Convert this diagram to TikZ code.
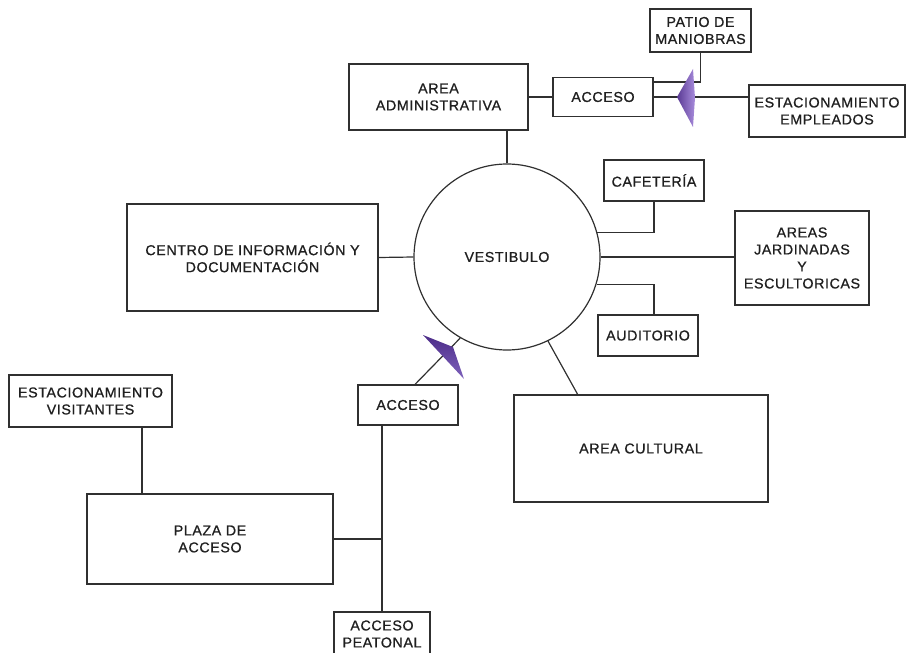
\documentclass[tikz,border=0pt]{standalone}
\usepackage{fontspec}
\setmainfont{Liberation Sans}[LetterSpace=4,FakeBold=0.8]
\newcommand\dgfont{\fontsize{14.3bp}{17bp}\selectfont}
\definecolor{edge}{HTML}{303030}
\definecolor{purpdark}{HTML}{5A3A94}
\definecolor{purplight}{HTML}{A88CDC}
\definecolor{purpdeep}{HTML}{4C2C88}
\definecolor{purpmid}{HTML}{7E62BC}
\begin{document}
\begin{tikzpicture}[x=1bp,y=-1bp,
  box/.style={draw=edge, line width=1.2bp, fill=white, align=center, font=\dgfont, inner sep=0pt, text=black!88},
  conn/.style={draw=edge, line width=1.2bp}]
\useasboundingbox (0,0) rectangle (909,653);
% nodes
\node[box, minimum width=179bp, minimum height=66bp] (admin) at (438.5,97) {AREA\\ADMINISTRATIVA};
\node[box, minimum width=100bp, minimum height=39bp] (acc1) at (603,97) {ACCESO};
\node[box, minimum width=101bp, minimum height=43bp] (patio) at (700.5,30.5) {PATIO DE\\MANIOBRAS};
\node[box, minimum width=156bp, minimum height=52bp] (estemp) at (827,111) {ESTACIONAMIENTO\\EMPLEADOS};
\node[box, circle, minimum size=186bp] (vest) at (507,257) {VESTIBULO};
\node[box, minimum width=100bp, minimum height=41bp] (cafe) at (654,180.5) {CAFETERÍA};
\node[box, minimum width=134bp, minimum height=94bp] (areas) at (802,258) {AREAS\\JARDINADAS\\Y\\ESCULTORICAS};
\node[box, minimum width=100bp, minimum height=41bp] (audit) at (648,335.5) {AUDITORIO};
\node[box, minimum width=251bp, minimum height=107bp] (centro) at (252.5,257.5) {CENTRO DE INFORMACIÓN Y\\DOCUMENTACIÓN};
\node[box, minimum width=254bp, minimum height=107bp] (cultural) at (641,448.5) {AREA CULTURAL};
\node[box, minimum width=100bp, minimum height=40bp] (acc2) at (408,405) {ACCESO};
\node[box, minimum width=163bp, minimum height=52bp] (estvis) at (90.5,401) {ESTACIONAMIENTO\\VISITANTES};
\node[box, minimum width=246bp, minimum height=90bp] (plaza) at (210,539) {PLAZA DE\\ACCESO};
\node[box, minimum width=96bp, minimum height=44bp] (peat) at (382,634) {ACCESO\\PEATONAL};
\coordinate (culin) at (578,395);
% connectors
\draw[conn] (vest.north) -- (vest.north |- admin.south);
\draw[conn] (admin.east) -- (acc1.west);
\draw[conn] ([yshift=15bp]acc1.east) -| (patio.south);
\draw[conn] (acc1.east) -- (acc1.east -| estemp.west);
\draw[conn] (vest.15.6) -| (cafe.south);
\draw[conn] (vest.east) -- (vest.east -| areas.west);
\draw[conn] (vest.-17) -| (cafe.south |- audit.north);
\draw[conn] (centro.east) -- (vest.west);
\draw[conn] (vest.-64) -- (culin);
\draw[conn] ([xshift=7bp]acc2.north) -- (vest.-120);
\draw[conn] (acc2.south -| peat.north) -- (peat.north);
\draw[conn] (plaza.east) -- (plaza.east -| peat.north);
\draw[conn] ([xshift=51.5bp]estvis.south) -- ([xshift=51.5bp]estvis.south |- plaza.north);
% arrowheads
\shade[left color=purpdark, right color=purplight] (677,97) -- (693,69) -- (695,98) -- (693,127) -- cycle;
\shade[shading angle=45, top color=purpdeep, bottom color=purpmid] (453,347) -- (423,335) -- (464,379) -- cycle;
\end{tikzpicture}
\end{document}
